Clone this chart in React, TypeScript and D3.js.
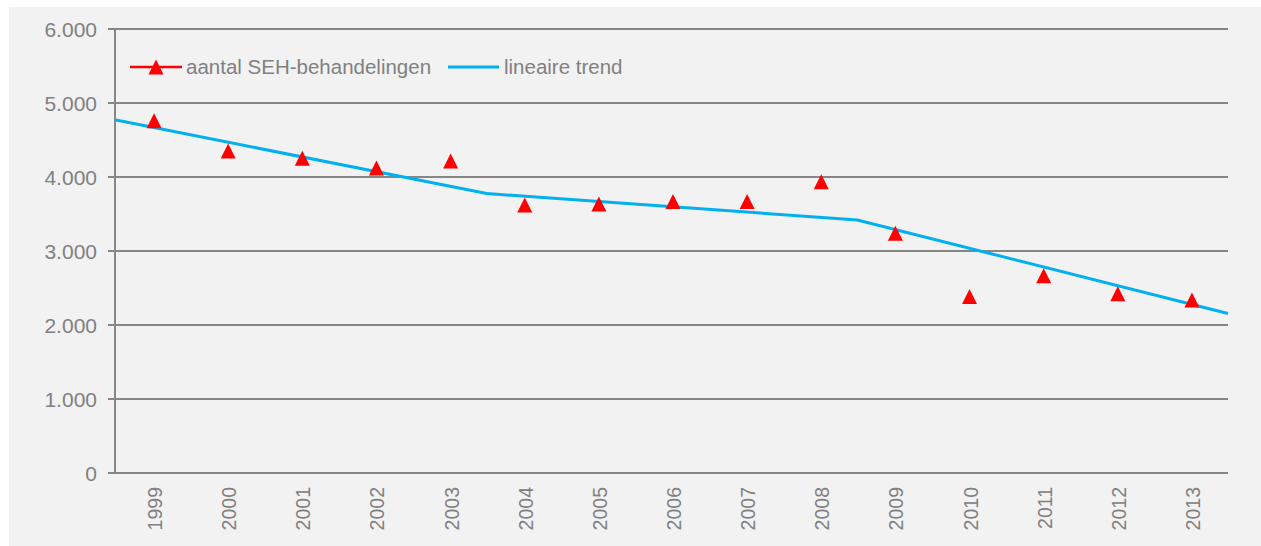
import { formatLocale, line, scaleLinear } from "d3";

// SEH-behandelingen per jaar
const years = [1999, 2000, 2001, 2002, 2003, 2004, 2005, 2006, 2007, 2008, 2009, 2010, 2011, 2012, 2013];
const behandelingen = [4760, 4350, 4255, 4120, 4215, 3620, 3635, 3670, 3670, 3937, 3240, 2385, 2665, 2423, 2338];

// lineaire trend (drie perioden), knikpunten op de grenzen tussen de jaren
const trendYears = [1998.5, 2003.5, 2008.5, 2013.5];
const trendValues = [4770, 3777, 3419, 2155];

const yTicks = [0, 1000, 2000, 3000, 4000, 5000, 6000];

const legendLabels = ["aantal SEH-behandelingen", "lineaire trend"];

const W = 1261;
const H = 546;
const FONT = "'Liberation Sans', Arial, sans-serif";
const GREY = "#868686";
const TEXT = "#808080";
const RED = "#ff0000";
const BLUE = "#00b0f0";

const nl = formatLocale({ decimal: ",", thousands: ".", grouping: [3], currency: ["€", ""] });
const fmt = nl.format(",");

const triangle = (cx: number, cy: number, r = 7.5) =>
  `M${cx},${cy - r}L${cx + r},${cy + r}L${cx - r},${cy + r}Z`;

export default function App() {
  const x = scaleLinear().domain([1998.5, 2013.5]).range([116, 1228]);
  const y = scaleLinear().domain([0, 6000]).range([473, 29]);

  const trendPath = line<number>()
    .x((d, i) => x(trendYears[i]))
    .y((d) => y(d))(trendValues);

  return (
    <svg
      width={W}
      height={H}
      style={{ position: "absolute", left: 0, top: 0, background: "#fff" }}
      fontFamily={FONT}
    >
      <rect x={9} y={7} width={W - 9} height={H - 7} fill="#f2f2f2" />

      {/* gridlines + y labels */}
      {yTicks.map((t) => (
        <g key={t}>
          <line x1={108} x2={1228} y1={y(t)} y2={y(t)} stroke={GREY} strokeWidth={2} />
          <text x={97} y={y(t)} dy="0.36em" textAnchor="end" fontSize={21} fill={TEXT}>
            {fmt(t)}
          </text>
        </g>
      ))}
      <line x1={115} x2={115} y1={y(6000)} y2={y(0)} stroke={GREY} strokeWidth={2} />

      {/* x labels */}
      {years.map((yr) => {
        const cx = x(yr) + 2;
        return (
          <text
            key={yr}
            transform={`translate(${cx},487) rotate(-90)`}
            textAnchor="end"
            dy="0.36em"
            fontSize={19.5}
            fill={TEXT}
          >
            {yr}
          </text>
        );
      })}

      {/* trend */}
      <path d={trendPath ?? ""} fill="none" stroke={BLUE} strokeWidth={3} />

      {/* markers */}
      {behandelingen.map((v, i) => (
        <path key={years[i]} d={triangle(x(years[i]) + 1, y(v))} fill={RED} />
      ))}

      {/* legend */}
      <g>
        <line x1={130} x2={182} y1={67} y2={67} stroke={RED} strokeWidth={2.5} />
        <path d={triangle(156, 67)} fill={RED} />
        <text x={186} y={67} dy="0.36em" fontSize={20.5} fill={TEXT}>
          {legendLabels[0]}
        </text>
        <line x1={448} x2={499} y1={67} y2={67} stroke={BLUE} strokeWidth={3} />
        <text x={504} y={67} dy="0.36em" fontSize={20.5} fill={TEXT}>
          {legendLabels[1]}
        </text>
      </g>
    </svg>
  );
}
